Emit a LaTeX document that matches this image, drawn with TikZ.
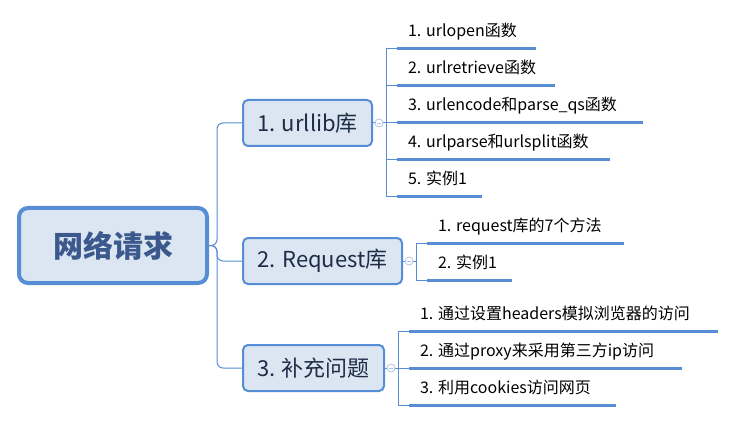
\documentclass[tikz,border=0pt]{standalone}
\usepackage{fontspec}
\setmainfont{Noto Sans CJK SC}
\definecolor{lineblue}{RGB}{86,141,212}
\definecolor{boxfill}{RGB}{220,230,242}
\definecolor{branchtext}{RGB}{30,45,70}
\definecolor{roottext}{RGB}{59,89,140}
\definecolor{circline}{RGB}{176,196,230}
\begin{document}
\begin{tikzpicture}[x=1pt,y=-1pt,
 rootbox/.style={draw=lineblue, line width=4pt, fill=boxfill, rounded corners=9pt, minimum width=188pt, minimum height=75pt, font=\fontsize{30}{36}\selectfont\bfseries, text=roottext, inner sep=0pt},
 branchbox/.style={draw=lineblue, line width=2pt, fill=boxfill, rounded corners=5pt, minimum height=46pt, font=\fontsize{22}{26}\selectfont, text=branchtext, inner sep=0pt},
 conn/.style={draw=lineblue, line width=1pt},
 uline/.style={draw=lineblue, line width=3pt},
 leaf/.style={anchor=south west, inner xsep=11pt, inner ysep=0pt, outer sep=0pt, minimum height=32pt, text height=12pt, text depth=4pt, font=\fontsize{16}{19}\selectfont, text=black},
 fold/.style={circle, draw=circline, fill=white, line width=0.8pt, minimum size=8pt, inner sep=0pt, path picture={\draw[circline, line width=0.8pt] ([xshift=-2.2pt]path picture bounding box.center) -- ([xshift=2.2pt]path picture bounding box.center);}}
]
\useasboundingbox (0,0) rectangle (736,422);

% root and branches
\node[rootbox] (root) at (113,245.5) {网络请求};
\node[branchbox, minimum width=129pt] (b1) at (307.5,123) {1. urllib库};
\node[branchbox, minimum width=159pt] (b2) at (322.5,261) {2. Request库};
\node[branchbox, minimum width=141pt] (b3) at (313.5,368) {3. 补充问题};

\draw[conn, rounded corners=6pt] (root.east) -- ++(8,0) |- (b1.west);
\draw[conn, rounded corners=6pt] (root.east) -- ++(8,0) |- (b2.west);
\draw[conn, rounded corners=6pt] (root.east) -- ++(8,0) |- (b3.west);

% bracket points
\coordinate (k1) at ([xshift=13pt]b1.east);
\coordinate (k2) at ([xshift=13pt]b2.east);
\coordinate (k3) at ([xshift=13pt]b3.east);

% leaves of branch 1
\node[leaf] (l11) at (397,49) {1. urlopen函数};
\node[leaf] (l12) at (397,86) {2. urlretrieve函数};
\node[leaf] (l13) at (397,123) {3. urlencode和parse\_qs函数};
\node[leaf] (l14) at (397,160) {4. urlparse和urlsplit函数};
\node[leaf] (l15) at (397,197) {5. 实例1};
% leaves of branch 2
\node[leaf] (l21) at (427,243) {1. request库的7个方法};
\node[leaf] (l22) at (427,280) {2. 实例1};
% leaves of branch 3
\node[leaf] (l31) at (409,331) {1. 通过设置headers模拟浏览器的访问};
\node[leaf] (l32) at (409,368) {2. 通过proxy来采用第三方ip访问};
\node[leaf] (l33) at (409,405) {3. 利用cookies访问网页};

% connectors branch -> brackets
\draw[conn] (b1.east) -- (k1);
\draw[conn] (b2.east) -- (k2);
\draw[conn] (b3.east) -- (k3);
\foreach \l in {l11,l12,l13,l14,l15} {\draw[conn] (k1) |- (\l.south west);}
\foreach \l in {l21,l22} {\draw[conn] (k2) |- (\l.south west);}
\foreach \l in {l31,l32,l33} {\draw[conn] (k3) |- (\l.south west);}

% underlines
\draw[uline] (l11.south west) -- ++(139,0);
\draw[uline] (l12.south west) -- ++(158,0);
\draw[uline] (l13.south west) -- ++(246,0);
\draw[uline] (l14.south west) -- ++(213,0);
\draw[uline] (l15.south west) -- ++(85,0);
\draw[uline] (l21.south west) -- ++(197,0);
\draw[uline] (l22.south west) -- ++(85,0);
\draw[uline] (l31.south west) -- ++(309,0);
\draw[uline] (l32.south west) -- ++(273,0);
\draw[uline] (l33.south west) -- ++(207,0);

% fold markers
\node[fold] (f1) at ([xshift=6pt]b1.east) {};
\node[fold] (f2) at ([xshift=6pt]b2.east) {};
\node[fold] (f3) at ([xshift=6pt]b3.east) {};
\end{tikzpicture}
\end{document}
